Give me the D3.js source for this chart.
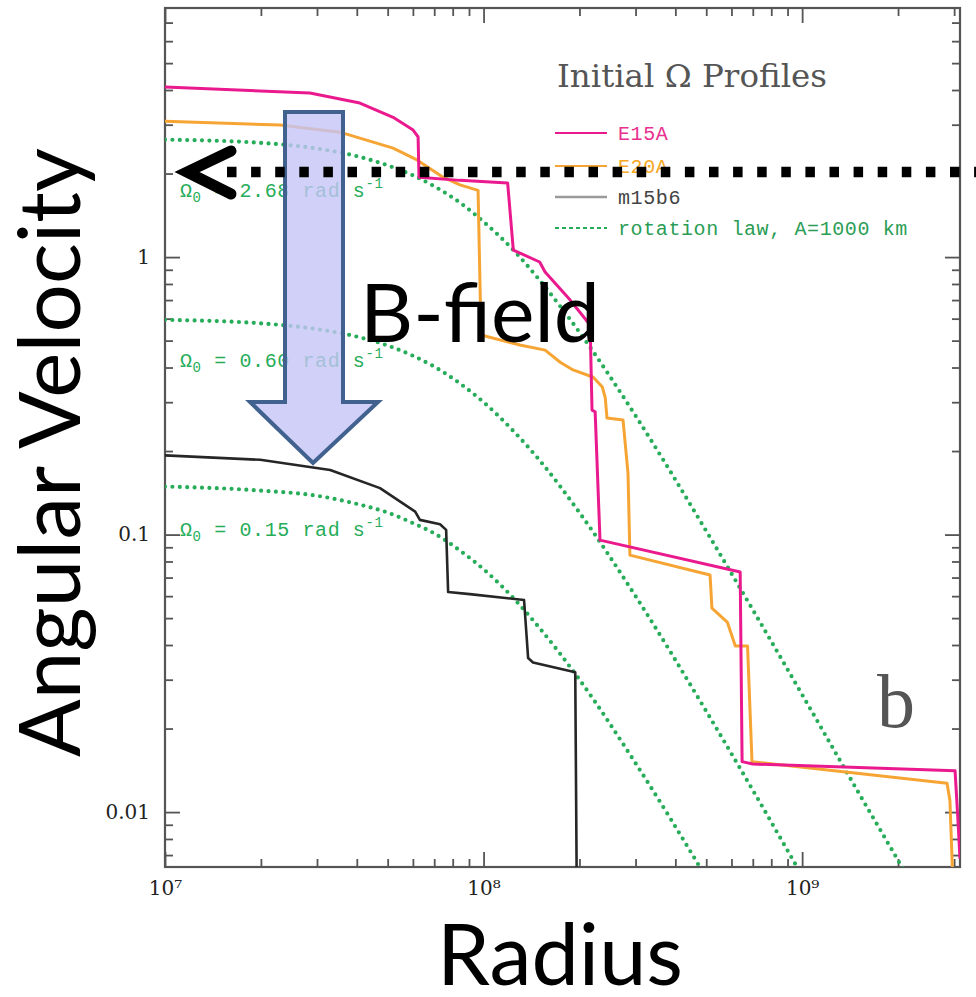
<!DOCTYPE html>
<html>
<head>
<meta charset="utf-8">
<script src="https://cdn.jsdelivr.net/npm/d3@7"></script>
<style>
  html, body { margin: 0; padding: 0; background: #fff; }
  svg { display: block; }
</style>
</head>
<body>
<svg id="chart" width="976" height="997"></svg>
<script>
// ---- Initial angular velocity profiles: radius (cm) vs. Omega (rad/s) ----
const e15aRadius = [1e7, 2.85e7, 4.09e7, 5.2e7, 6.01e7, 6.23e7, 6.27e7, 8.43e7, 1.19e8, 1.24e8, 1.5e8, 1.56e8,
                    1.87e8, 2.16e8, 2.19e8, 2.24e8, 2.32e8, 6.39e8, 6.48e8, 6.99e8, 3.02e9, 3.08e9, 3.13e9];
const e15aOmega  = [4.10, 3.90, 3.59, 3.19, 2.87, 2.71, 1.94, 1.89, 1.85, 1.06, 0.96, 0.883,
                    0.70, 0.569, 0.281, 0.277, 0.0955, 0.0733, 0.0152, 0.0149, 0.0141, 0.0096, 0.0068];

const e20aRadius = [1e7, 2.3e7, 3.54e7, 5.2e7, 6.18e7, 7.46e7, 8.43e7, 9.61e7, 9.82e7, 1.3e8, 1.56e8, 1.74e8,
                    1.91e8, 2.21e8, 2.36e8, 2.41e8, 2.44e8, 2.74e8, 2.84e8, 2.88e8, 5.14e8, 5.21e8, 5.82e8,
                    6.17e8, 6.74e8, 6.96e8, 2.85e9, 2.91e9, 2.97e9];
const e20aOmega  = [3.09, 2.99, 2.82, 2.47, 2.24, 1.94, 1.82, 1.74, 0.524, 0.482, 0.462, 0.418,
                    0.392, 0.369, 0.340, 0.311, 0.263, 0.259, 0.167, 0.0843, 0.0715, 0.0543, 0.0484,
                    0.0397, 0.0397, 0.0152, 0.0127, 0.0110, 0.0058];

const m15b6Radius = [1e7, 1.99e7, 3.3e7, 4.73e7, 6.1e7, 6.31e7, 7.3e7, 7.63e7, 7.74e7, 9.05e7, 1.34e8, 1.38e8,
                     1.43e8, 1.94e8, 1.96e8];
const m15b6Omega  = [0.193, 0.186, 0.171, 0.147, 0.121, 0.113, 0.109, 0.104, 0.0621, 0.0610, 0.0581, 0.0359,
                     0.0346, 0.0319, 0.0058];

// ---- Rotation law curves (A = 1000 km) sampled along the radius ----
const lawRadius   = [1e7, 2e7, 3e7, 4e7, 5e7, 6e7, 7e7, 8.5e7, 1e8, 1.25e8, 1.5e8, 2e8, 3e8, 5e8, 7e8, 1e9, 1.5e9, 2e9, 3e9];
const lawOmega268 = [2.65, 2.58, 2.46, 2.31, 2.14, 1.97, 1.80, 1.56, 1.34, 1.05, 0.825, 0.536, 0.268, 0.103, 0.0536, 0.0265, 0.0118, 0.0067, 0.0030];
const lawOmega060 = [0.594, 0.577, 0.550, 0.517, 0.480, 0.441, 0.403, 0.348, 0.300, 0.234, 0.185, 0.120, 0.060, 0.0231, 0.0120, 0.0059, 0.0027, 0.0015, 0.00067];
const lawOmega015 = [0.149, 0.144, 0.138, 0.129, 0.120, 0.110, 0.101, 0.087, 0.075, 0.0585, 0.046, 0.030, 0.015, 0.0058, 0.0030, 0.0015, 0.00066, 0.00037, 0.00017];
const lawOmega0Labels = ["2.68", "0.60", "0.15"];

// ---- Axis ticks ----
const xMajorTicks = [1e7, 1e8, 1e9];
const xTickLabels = ["10⁷", "10⁸", "10⁹"];
const yMajorTicks = [0.01, 0.1, 1];
const yTickLabels = ["0.01", "0.1", "1"];

// ---- Legend ----
const legendTitle = "Initial Ω Profiles";
const legendNames = ["E15A", "E20A", "m15b6", "rotation law, A=1000 km"];

// ---- Colours ----
const cMagenta = "#ea1a8e", cOrange = "#f6a534", cBlack = "#262626", cGreen = "#27ad5a", cAxis = "#555";

const svg = d3.select("#chart");
const plot = { left: 165, right: 960, top: 8, bottom: 867 };

const x = d3.scaleLog().domain([1e7, 3.13e9]).range([plot.left, plot.right]);
const y = d3.scaleLog().domain([0.00634, 7.9]).range([plot.bottom, plot.top]);

const isMajor = (v, majors) => majors.some(m => Math.abs(v / m - 1) < 1e-6);
const xMinor = x.ticks().filter(v => !isMajor(v, xMajorTicks));
const yMinor = y.ticks().filter(v => !isMajor(v, yMajorTicks));

svg.append("defs").append("clipPath").attr("id", "plotClip")
  .append("rect")
  .attr("x", plot.left).attr("y", plot.top)
  .attr("width", plot.right - plot.left).attr("height", plot.bottom - plot.top);

// ---- Axes: ticks point inward on all four sides ----
function styleAxis(g) {
  g.select(".domain").remove();
  g.selectAll(".tick line").attr("stroke", cAxis).attr("stroke-width", 1.8);
  g.selectAll(".tick text")
    .attr("fill", "#222")
    .style("font-family", "'DejaVu Serif', serif")
    .style("font-size", "20px");
}
const axes = svg.append("g");
// bottom
axes.append("g").attr("transform", `translate(0,${plot.bottom})`)
  .call(d3.axisBottom(x).tickValues(xMinor).tickSize(-8).tickFormat("")).call(styleAxis);
axes.append("g").attr("transform", `translate(0,${plot.bottom})`)
  .call(d3.axisBottom(x).tickValues(xMajorTicks).tickSize(-15).tickPadding(14)
    .tickFormat((d, i) => xTickLabels[i])).call(styleAxis);
// top
axes.append("g").attr("transform", `translate(0,${plot.top})`)
  .call(d3.axisTop(x).tickValues(xMinor).tickSize(-8).tickFormat("")).call(styleAxis);
axes.append("g").attr("transform", `translate(0,${plot.top})`)
  .call(d3.axisTop(x).tickValues(xMajorTicks).tickSize(-15).tickFormat("")).call(styleAxis);
// left
axes.append("g").attr("transform", `translate(${plot.left},0)`)
  .call(d3.axisLeft(y).tickValues(yMinor).tickSize(-8).tickFormat("")).call(styleAxis);
axes.append("g").attr("transform", `translate(${plot.left},0)`)
  .call(d3.axisLeft(y).tickValues(yMajorTicks).tickSize(-15).tickPadding(15)
    .tickFormat((d, i) => yTickLabels[i])).call(styleAxis);
// right
axes.append("g").attr("transform", `translate(${plot.right},0)`)
  .call(d3.axisRight(y).tickValues(yMinor).tickSize(-8).tickFormat("")).call(styleAxis);
axes.append("g").attr("transform", `translate(${plot.right},0)`)
  .call(d3.axisRight(y).tickValues(yMajorTicks).tickSize(-15).tickFormat("")).call(styleAxis);

// frame
svg.append("rect")
  .attr("x", plot.left).attr("y", plot.top)
  .attr("width", plot.right - plot.left).attr("height", plot.bottom - plot.top)
  .attr("fill", "none").attr("stroke", cAxis).attr("stroke-width", 2.2);

// ---- Curves ----
const curves = svg.append("g").attr("clip-path", "url(#plotClip)");
const zip = (rs, ws) => rs.map((r, i) => [r, ws[i]]);
const smoothLine = d3.line().x(d => x(d[0])).y(d => y(d[1])).curve(d3.curveMonotoneX);
const stepLine = d3.line().x(d => x(d[0])).y(d => y(d[1]));

[lawOmega268, lawOmega060, lawOmega015].forEach(w => {
  curves.append("path")
    .attr("d", smoothLine(zip(lawRadius, w)))
    .attr("fill", "none").attr("stroke", cGreen)
    .attr("stroke-width", 4.2).attr("stroke-linecap", "round")
    .attr("stroke-dasharray", "0 7.4");
});

const profiles = [
  { r: m15b6Radius, w: m15b6Omega, color: cBlack, width: 2.6 },
  { r: e20aRadius, w: e20aOmega, color: cOrange, width: 3 },
  { r: e15aRadius, w: e15aOmega, color: cMagenta, width: 3 }
];
profiles.forEach(p => {
  curves.append("path")
    .attr("d", stepLine(zip(p.r, p.w)))
    .attr("fill", "none").attr("stroke", p.color)
    .attr("stroke-width", p.width).attr("stroke-linejoin", "round");
});

// ---- Rotation law labels ----
const monoFont = "'Liberation Mono', 'DejaVu Sans Mono', monospace";
const labelOffsets = [57, 47, 49];
[lawOmega268, lawOmega060, lawOmega015].forEach((w, i) => {
  const t = svg.append("text")
    .attr("x", plot.left + 15).attr("y", y(w[0]) + labelOffsets[i])
    .attr("fill", cGreen).style("font-family", monoFont).style("font-size", "20px")
    .style("letter-spacing", "0.6px");
  t.append("tspan").text("Ω");
  t.append("tspan").attr("dy", 5).style("font-size", "14px").text("0");
  t.append("tspan").attr("dy", -5).text(" = " + lawOmega0Labels[i] + " rad s");
  t.append("tspan").attr("dy", -9).style("font-size", "14px").text("-1");
});

// ---- Legend ----
function fitText(sel, targetWidth) {
  const base = 100;
  sel.style("font-size", base + "px");
  const w = sel.node().getComputedTextLength();
  sel.style("font-size", (base * targetWidth / w) + "px");
  return sel;
}
const legend = svg.append("g");
fitText(legend.append("text").attr("x", 557).attr("y", 87)
  .attr("fill", "#555").style("font-family", "'DejaVu Serif', serif").text(legendTitle), 270);

const legendColors = [cMagenta, cOrange, "#9a9a9a", cGreen];
const legendTextColors = ["#e8308f", "#f5a623", "#444", "#2a9d55"];
const legendRows = [133, 166, 197, 228];
legendNames.forEach((name, i) => {
  legend.append("line")
    .attr("x1", 555).attr("x2", 607).attr("y1", legendRows[i]).attr("y2", legendRows[i])
    .attr("stroke", legendColors[i]).attr("stroke-width", i === 2 ? 2.4 : 1.8)
    .attr("stroke-dasharray", i === 3 ? "4 3" : null);
  legend.append("text")
    .attr("x", 618).attr("y", legendRows[i] + 7)
    .attr("fill", legendTextColors[i])
    .style("font-family", monoFont).style("font-size", "20px").style("letter-spacing", "0.6px")
    .text(name);
});

// panel letter
svg.append("text").attr("x", 877).attr("y", 727)
  .attr("fill", "#555").style("font-family", "'Liberation Serif', serif")
  .style("font-size", "76px").text("b");

// ---- Annotations ----
// downward block arrow
const arrowPts = [[285, 112], [343, 112], [343, 402], [378, 402], [313, 463], [250, 402], [285, 402]];
svg.append("polygon")
  .attr("points", arrowPts.map(p => p.join(",")).join(" "))
  .attr("fill", "#c4c4f6").attr("fill-opacity", 0.8)
  .attr("stroke", "#41618f").attr("stroke-width", 4).attr("stroke-linejoin", "miter");

const bigFont = "Lato, 'Open Sans', sans-serif";
fitText(svg.append("text").attr("x", 360).attr("y", 342)
  .attr("fill", "#000").style("font-family", bigFont).text("B-field"), 240);

// dotted leftward arrow at Omega0 level
svg.append("line")
  .attr("x1", 227).attr("x2", 976).attr("y1", 172).attr("y2", 172)
  .attr("stroke", "#000").attr("stroke-width", 10.5)
  .attr("stroke-dasharray", "9.5 14.6");
svg.append("path")
  .attr("d", "M231,151 L187,172 L231,194")
  .attr("fill", "none").attr("stroke", "#000").attr("stroke-width", 11)
  .attr("stroke-linecap", "round").attr("stroke-linejoin", "miter");

// axis titles
fitText(svg.append("text").attr("x", 437).attr("y", 985)
  .attr("fill", "#000").style("font-family", bigFont).text("Radius"), 246);
fitText(svg.append("text").attr("transform", "translate(80,757) rotate(-90)")
  .attr("fill", "#000").style("font-family", bigFont).text("Angular Velocity"), 609);
</script>
</body>
</html>
